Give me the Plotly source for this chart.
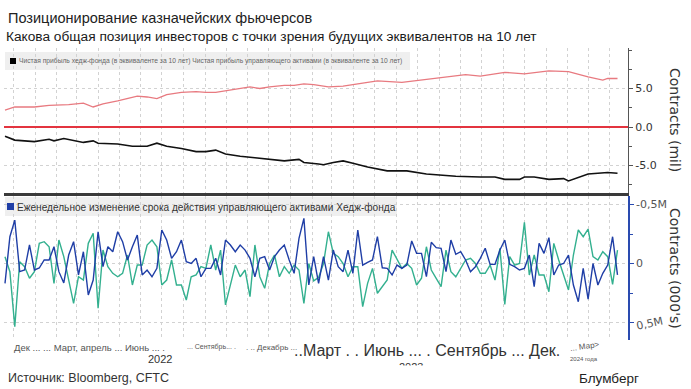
import plotly.graph_objects as go
import pandas as pd

# ---------------- data ----------------
start_date = "2021-11-19"
n_weeks = 126
week_dates = pd.date_range(start_date, periods=n_weeks, freq="7D")

# weekly change (thousands of contracts)
hedge_fund_weekly = [168, -227, -368, 69, 55, -157, 55, 38, -30, -30,
                     -142, 69, 165, -72, -185, 97, -100, 267, 140, -269,
                     27, -142, -100, -269, -185, -30, -142, -241, 97, 55,
                     112, 41, -284, -199, -44, -100, -199, -15, 0, -44,
                     112, 41, 41, -44, 97, -199, -157, -100, -157, -114,
                     -44, 112, -44, -58, 55, -58, -114, -157, -30, 83,
                     -213, -383, 182, -58, 168, -58, 140, -114, 27, 69,
                     -114, 83, -284, 13, -10, -30, -227, 36, 41, 97,
                     13, 41, 13, -191, -86, -86, 112, -180, -134, -129,
                     69, -199, -78, -100, -30, 69, 27, -44, -129, 7,
                     7, -114, -199, 7, 27, 55, 41, -72, 196, -171,
                     -86, -219, 97, 13, 0, -72, 182, 324, 41, 301,
                     0, 182, 83, 13, -227, 97]
asset_mgr_weekly = [-58, 69, 535, -15, 27, 125, 69, -171, -185, -142,
                    168, -199, -58, 154, 337, 112, 140, -171, -256, 379,
                    -114, 27, 83, 112, 83, -72, 182, 13, 13, -157,
                    -199, -142, 182, 140, -30, 182, 182, 309, 112, 97,
                    27, 41, -157, 55, -114, 351, 182, 13, 112, 55,
                    281, -157, 112, 210, 0, -72, 112, 27, 83, 13,
                    55, 337, 0, 147, 118, 0, -269, -86, -58, 0,
                    112, 27, 27, 366, 168, 41, 252, 196, 140, -114,
                    -30, 41, 0, 41, 182, 125, -142, 55, 125, 196,
                    -114, 69, 112, 41, -30, -44, 0, 83, 83, 13,
                    140, -129, 346, -58, 13, 0, -349, 97, -72, 97,
                    97, 239, -171, -30, 97, 224, -72, -284, -227, -292,
                    -58, -30, -100, -58, 176, -114]

# net positions (millions of contracts), read at these week numbers
asset_mgr_weeks = [0, 2, 6, 9, 13, 16, 18, 20, 23, 25, 27, 29, 31, 33, 36, 39, 41, 43, 45, 48,
                   50, 52, 54, 57, 59, 61, 63, 66, 69, 71, 76, 81, 85, 90, 94, 97, 102, 106, 111, 115,
                   119, 122, 123, 125]
asset_mgr_net = [2.2, 2.6, 2.6, 2.8, 2.9, 3.1, 2.6, 3.0, 3.4, 3.7, 4.0, 3.9, 3.7, 4.2, 4.5, 4.6, 4.5, 4.5, 4.7, 5.0,
                 5.2, 5.0, 5.2, 5.4, 5.4, 5.6, 5.5, 5.2, 5.3, 5.5, 6.0, 5.8, 6.1, 6.5, 6.8, 6.6, 7.1, 6.9, 7.3, 7.2,
                 6.5, 6.1, 6.3, 6.3]
hedge_fund_weeks = [0, 2, 6, 9, 10, 12, 16, 18, 19, 23, 26, 29, 31, 33, 36, 39, 41, 43, 45, 48,
                    51, 54, 57, 60, 61, 64, 65, 67, 69, 71, 74, 78, 82, 86, 92, 97, 100, 102, 105, 106,
                    108, 111, 114, 115, 117, 119, 123, 125]
hedge_fund_net = [-1.2, -1.7, -1.9, -1.6, -1.8, -1.5, -2.0, -1.8, -2.1, -2.2, -2.5, -2.5, -2.1, -2.5, -2.8, -3.2, -3.2, -3.0, -3.5, -3.8,
                  -4.0, -4.2, -4.4, -4.2, -4.6, -4.8, -4.9, -4.6, -4.4, -4.7, -5.2, -5.7, -5.7, -6.1, -6.4, -6.5, -6.5, -6.8, -6.8, -6.5,
                  -6.5, -6.8, -6.7, -7.0, -6.5, -6.1, -5.9, -6.0]

top_tickvals = [-5, 0, 5]
top_ticktext = ["-5.0", "0.0", "5.0"]
bot_tickvals = [-500, 0, 500]
bot_ticktext = ["-0,5M", "0", "0,5M"]

title_text = "Позиционирование казначейских фьючерсов"
subtitle_text = "Какова общая позиция инвесторов с точки зрения будущих эквивалентов на 10 лет"
legend_top_text = "Чистая прибыль хедж-фонда (в эквиваленте за 10 лет) Чистая прибыль управляющего активами (в эквиваленте за 10 лет)"
legend_bot_text = "Еженедельное изменение срока действия управляющего активами Хедж-фонда"
source_text = "Источник: Bloomberg, CFTC"
brand_text = "Блумберг"

# ---------------- layout helpers ----------------
W, H = 691, 389
L, R, T, B = 4, 63, 48, 49
PW, PH = W - L - R, H - T - B


def px(x):
    return (x - L) / PW


def py(y):
    return (H - B - y) / PH


am_dates = [week_dates[i] for i in asset_mgr_weeks]
hf_dates = [week_dates[i] for i in hedge_fund_weeks]

fig = go.Figure()
fig.add_trace(go.Scatter(x=am_dates, y=asset_mgr_net, xaxis="x2", yaxis="y", mode="lines",
                         line=dict(color="#e87a80", width=1.3), name="am"))
fig.add_trace(go.Scatter(x=hf_dates, y=hedge_fund_net, xaxis="x2", yaxis="y", mode="lines",
                         line=dict(color="#111111", width=1.6), name="hf"))
fig.add_trace(go.Scatter(x=week_dates, y=asset_mgr_weekly, xaxis="x", yaxis="y2", mode="lines",
                         line=dict(color="#33b08f", width=1.4), name="amw"))
fig.add_trace(go.Scatter(x=week_dates, y=hedge_fund_weekly, xaxis="x", yaxis="y2", mode="lines",
                         line=dict(color="#1f3ea6", width=1.4), name="hfw"))

xr = ["2021-11-17 14:00", "2024-04-27"]
grid = "#d2d2d2"
tickfont = dict(family="DejaVu Sans", size=11, color="#333")

fig.update_layout(
    width=W, height=H, margin=dict(l=L, r=R, t=T, b=B),
    paper_bgcolor="white", plot_bgcolor="white", showlegend=False,
    xaxis=dict(domain=[0, 1], anchor="y2", type="date", range=xr, showticklabels=False,
               showgrid=True, gridcolor=grid, griddash="dot", gridwidth=1,
               tick0="2021-12-01", dtick="M1", ticks="", zeroline=False, showline=False),
    xaxis2=dict(domain=[0, 1], anchor="y", matches="x", type="date", range=xr, showticklabels=False,
                showgrid=True, gridcolor=grid, griddash="dot", gridwidth=1,
                tick0="2021-12-01", dtick="M1", ticks="", zeroline=False,
                showline=True, linecolor="#3a3a3a", linewidth=3),
    yaxis=dict(domain=[py(193), 1], anchor="x2", side="right", range=[-8.57, 10.26],
               tickmode="array", tickvals=top_tickvals, ticktext=top_ticktext,
               ticks="outside", ticklen=4, tickcolor="#555", tickfont=tickfont,
               showline=True, linecolor="#555", linewidth=1,
               showgrid=True, gridcolor=grid, griddash="dot",
               zeroline=True, zerolinecolor="#e3343f", zerolinewidth=2,
               minor=dict(tickvals=[-7.5, -2.5, 2.5, 7.5, 10], ticks="outside", ticklen=3,
                          tickcolor="#555", showgrid=False)),
    yaxis2=dict(domain=[0, py(196)], anchor="x", side="right", range=[648, -572],
                tickmode="array", tickvals=bot_tickvals, ticktext=bot_ticktext[:2] + [""],
                ticks="outside", ticklen=4, tickcolor="#2a4bb0",
                tickfont=dict(family="DejaVu Sans", size=11, color="#555"),
                showline=True, linecolor="#2a4bb0", linewidth=1.5,
                showgrid=True, gridcolor=grid, griddash="dot", zeroline=False,
                minor=dict(tickvals=[-250, 250], ticks="outside", ticklen=3,
                           tickcolor="#2a4bb0", showgrid=False)),
)

shapes = []
# legend boxes
shapes.append(dict(type="rect", xref="paper", yref="paper", x0=px(5), x1=px(410), y0=py(70), y1=py(52),
                   fillcolor="#efefef", line=dict(width=0), layer="between"))
shapes.append(dict(type="rect", xref="paper", yref="paper", x0=px(10), x1=px(16), y0=py(64), y1=py(58),
                   fillcolor="#000", line=dict(width=0), layer="above"))
shapes.append(dict(type="rect", xref="paper", yref="paper", x0=px(5), x1=px(397), y0=py(216), y1=py(197),
                   fillcolor="#efefef", line=dict(width=0), layer="between"))
shapes.append(dict(type="rect", xref="paper", yref="paper", x0=px(7), x1=px(14), y0=py(210), y1=py(203),
                   fillcolor="#1f3ea6", line=dict(width=0), layer="above"))
# brand icon
shapes.append(dict(type="rect", xref="paper", yref="paper", x0=px(660), x1=px(671), y0=py(384), y1=py(372),
                   fillcolor="#111", line=dict(width=0), layer="above"))
for bx, btop in [(662.5, 379), (665, 376), (667.5, 378)]:
    shapes.append(dict(type="rect", xref="paper", yref="paper", x0=px(bx), x1=px(bx + 1.2),
                       y0=py(381), y1=py(btop), fillcolor="#fff", line=dict(width=0), layer="above"))
fig.update_layout(shapes=shapes)

SANS = "Liberation Sans, Arial, sans-serif"


def ann(text, x, y, size, color="#333", family=SANS, xanchor="left", angle=0, **kw):
    fig.add_annotation(text=text, xref="paper", yref="paper", x=px(x), y=py(y),
                       xanchor=xanchor, yanchor="middle", showarrow=False, textangle=angle,
                       font=dict(family=family, size=size, color=color), **kw)


ann(title_text, 6, 18, 14.5, "#222")
ann(subtitle_text, 4, 37, 13.7, "#1a1a1a")
ann(legend_top_text, 17, 61, 6.7, "#666")
ann(legend_bot_text, 15, 207, 10.1, "#333")

ann("Contracts (mil)", 675, 120, 14, "#333", "DejaVu Sans", "center", 90)
ann("Contracts (000's)", 675, 268, 14, "#333", "DejaVu Sans", "center", 90)
# slanted bottom tick label of the lower axis
ann(bot_ticktext[2], 633, 323, 11, "#555", "DejaVu Sans", "left", -12)

# date labels
ann("Дек ... ... Март, апрель ... Июнь ... .", 12, 347, 9.5, "#555")
ann("... Сентябрь... .", 185, 347, 7, "#555")
ann(". .. Декабрь ...", 244, 347, 8, "#555")
ann("..Март . . Июнь ... . Сентябрь ... Дек.", 292, 350, 16, "#333")
ann("... Мар&gt;", 567, 346, 8, "#555", angle=-8)
ann("2022", 160, 359, 11, "#333", xanchor="center")
ann("2023", 411, 367, 11, "#333", xanchor="center")
ann("2024 года", 568, 359, 6, "#555")
# footer band (hides lower part of the cut "2023" label, as in the original)
fig.add_annotation(text=" ", xref="paper", yref="paper", x=px(345), y=py(378), xanchor="center",
                   yanchor="middle", showarrow=False, width=680, height=22, bgcolor="white",
                   font=dict(size=10))

ann(source_text, 6, 378, 12.5, "#333")
ann(brand_text, 641, 378, 13.5, "#222", xanchor="right")

fig.write_html("out.html", config={"displayModeBar": False},
               post_script="document.body.style.margin='0px';")
